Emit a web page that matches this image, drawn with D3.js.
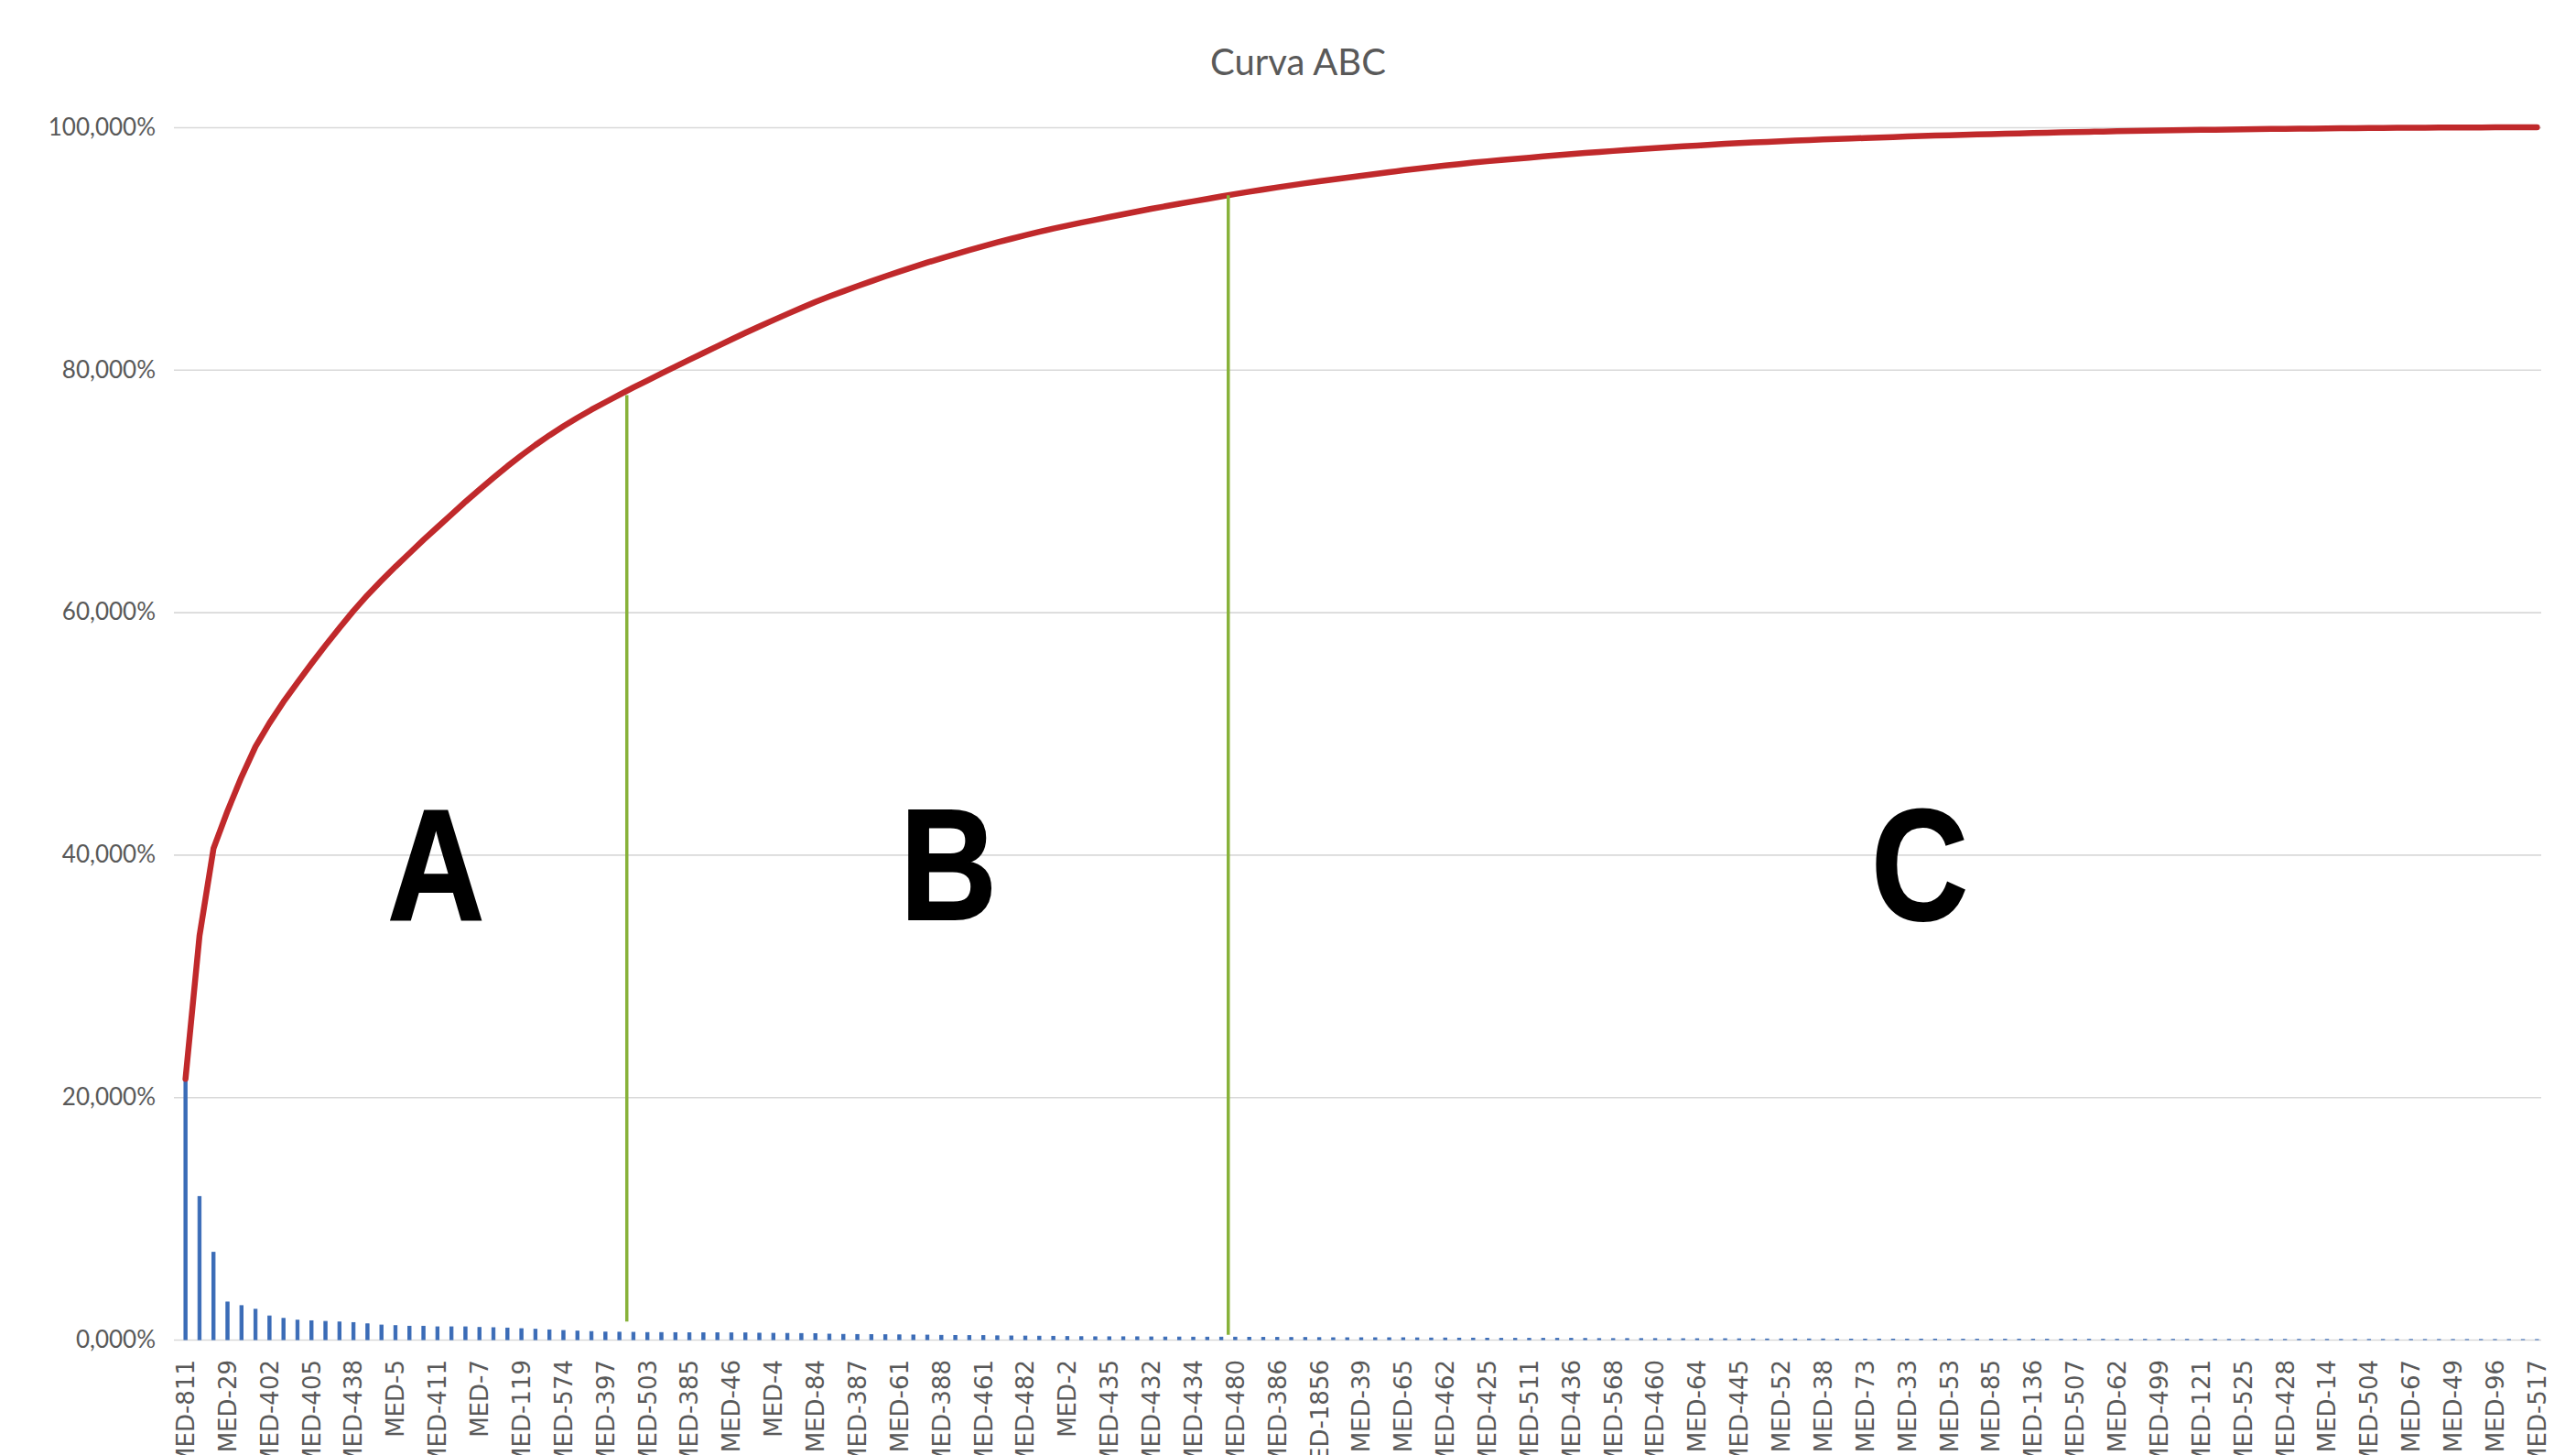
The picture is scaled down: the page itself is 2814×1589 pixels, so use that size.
<!DOCTYPE html>
<html>
<head>
  <meta charset="UTF-8">
  <title>Curva ABC</title>
  <style>
    body { margin: 0; background: #fff; }
    svg { display: block; }
  </style>
</head>
<body>
<svg></svg>
<script src="https://d3js.org/d3.v7.min.js"></script>
<script>
    let width = 2814, height = 1589;

    // every 3rd item is labelled on the axis
    var labels = ["MED-811","MED-29","MED-402","MED-405","MED-438","MED-5","MED-411","MED-7","MED-119",
        "MED-574","MED-397","MED-503","MED-385","MED-46","MED-4","MED-84","MED-387","MED-61","MED-388",
        "MED-461","MED-482","MED-2","MED-435","MED-432","MED-434","MED-480","MED-386","MED-1856","MED-39",
        "MED-65","MED-462","MED-425","MED-511","MED-436","MED-568","MED-460","MED-64","MED-445","MED-52",
        "MED-38","MED-73","MED-33","MED-53","MED-85","MED-136","MED-507","MED-62","MED-499","MED-121",
        "MED-525","MED-428","MED-14","MED-504","MED-67","MED-49","MED-96","MED-517"];

    // share of each item (%), sorted high to low
    var share = [
        21.5, 11.8, 7.2,
        3.1, 2.8, 2.5,
        1.95, 1.75, 1.6,
        1.55, 1.5, 1.45, 1.4,
        1.3, 1.2, 1.15,
        1.1, 1.1, 1.05,
        1.05, 1.05, 1.0,
        0.98, 0.95, 0.9,
        0.85, 0.8, 0.75,
        0.7, 0.66, 0.62,
        0.61, 0.6, 0.58,
        0.58, 0.57, 0.56,
        0.56, 0.56, 0.55,
        0.55, 0.53, 0.52,
        0.51, 0.5, 0.49,
        0.45, 0.43, 0.42,
        0.41, 0.4, 0.39,
        0.38, 0.37, 0.35,
        0.34, 0.33, 0.33,
        0.31, 0.3, 0.29,
        0.28, 0.27, 0.25,
        0.24, 0.23, 0.23,
        0.23, 0.23, 0.22,
        0.21, 0.21, 0.2,
        0.2, 0.2, 0.2,
        0.19, 0.18, 0.18,
        0.17, 0.17, 0.16,
        0.15, 0.15, 0.15,
        0.15, 0.15, 0.15,
        0.14, 0.13, 0.13,
        0.12, 0.12, 0.11,
        0.1, 0.1, 0.1,
        0.1, 0.1, 0.1,
        0.09, 0.08, 0.08,
        0.08, 0.08, 0.08,
        0.07, 0.07, 0.07,
        0.07, 0.07, 0.06,
        0.05, 0.05, 0.05,
        0.05, 0.05, 0.05,
        0.04, 0.04, 0.04,
        0.04, 0.04, 0.04,
        0.04, 0.04, 0.03,
        0.03, 0.03, 0.03,
        0.03, 0.03, 0.03,
        0.027, 0.025, 0.025,
        0.024, 0.023, 0.022,
        0.02, 0.02, 0.02,
        0.017, 0.017, 0.017,
        0.017, 0.016, 0.016,
        0.014, 0.013, 0.013,
        0.012, 0.012, 0.012,
        0.01, 0.01, 0.01,
        0.009, 0.008, 0.008,
        0.006, 0.006, 0.006,
        0.004, 0.004, 0.004,
        0.003, 0.002, 0.002
    ];

    var yTicks = [0, 20, 40, 60, 80, 100];

    // hand drawn class limits: item position, top and bottom value (%)
    var cutoffs = [
        {at: 31.53, top: 77.9, bottom: 1.5},
        {at: 74.5, top: 94.4, bottom: 0.4}
    ];
    var zones = [
        {text: "A", at: 17.9, value: 34.7},
        {text: "B", at: 54.5, value: 34.7},
        {text: "C", at: 123.9, value: 34.7}
    ];

    let svg = d3.select("svg")
        .attr("width", width)
        .attr("height", height)
        .attr("viewBox", "0 0 " + width + " " + height);

    var total = d3.sum(share);
    var cum = Array.from(d3.cumsum(share), v => v / total * 100);
    var idx = d3.range(share.length);

    var left = 195, right = 2779;
    var x = d3.scaleBand()
        .domain(idx)
        .range([left, right])
        .paddingInner(0.78)
        .paddingOuter(0.39);
    var step = x.step();
    // continuous position for things drawn between items
    var xpos = d3.scaleLinear()
        .domain([0, share.length - 1])
        .range([left + step / 2, right - step / 2]);
    var y = d3.scaleLinear()
        .domain([0, 100])
        .range([1463, 139]);

    var fmt = d => d3.format(".3f")(d).replace(".", ",") + "%";

    // title
    svg.append("text")
        .attr("x", 1418)
        .attr("y", 68)
        .attr("dy", "0.35em")
        .attr("text-anchor", "middle")
        .style("font-family", "Lato, 'Open Sans', sans-serif")
        .style("font-size", "40px")
        .style("fill", "#595959")
        .text("Curva ABC");

    // gridlines + y labels
    var yAxis = svg.append("g")
        .attr("transform", "translate(" + (left - 5) + ",0)")
        .call(d3.axisLeft(y).tickValues(yTicks).tickFormat(fmt)
            .tickSize(-(right - left + 2)).tickPadding(20));
    yAxis.select(".domain").remove();
    yAxis.selectAll(".tick line")
        .attr("stroke", "#d9d9d9")
        .attr("stroke-width", 1.6);
    yAxis.selectAll(".tick text")
        .style("font-family", "Lato, 'Open Sans', sans-serif")
        .style("font-size", "26px")
        .style("fill", "#595959");

    // x labels
    var xAxis = svg.append("g")
        .attr("transform", "translate(0," + y(0) + ")")
        .call(d3.axisBottom(x)
            .tickValues(idx.filter(i => i % 3 === 0))
            .tickFormat(i => labels[i / 3])
            .tickSize(0));
    xAxis.select(".domain").remove();
    xAxis.selectAll(".tick text")
        .attr("transform", "translate(0,22) rotate(-90)")
        .attr("x", 0)
        .attr("y", 0)
        .attr("dy", "0.36em")
        .attr("text-anchor", "end")
        .style("font-family", "'DejaVu Sans', 'Open Sans', sans-serif")
        .style("font-size", "26px")
        .style("fill", "#595959");

    // bars
    svg.append("g")
        .selectAll("rect")
        .data(share)
        .enter()
        .append("rect")
        .attr("x", (d, i) => x(i))
        .attr("y", d => y(d))
        .attr("width", x.bandwidth())
        .attr("height", d => y(0) - y(d))
        .attr("fill", "#3b6cb7")
        .attr("stroke", "#3b6cb7")
        .attr("stroke-width", 1);

    // cumulative line
    var line = d3.line()
        .x((d, i) => x(i) + x.bandwidth() / 2)
        .y(d => y(d));
    svg.append("path")
        .datum(cum)
        .attr("d", line)
        .attr("fill", "none")
        .attr("stroke", "#c0292b")
        .attr("stroke-width", 6.5)
        .attr("stroke-linejoin", "round")
        .attr("stroke-linecap", "round");

    // class limits
    svg.append("g")
        .selectAll("line")
        .data(cutoffs)
        .enter()
        .append("line")
        .attr("x1", d => xpos(d.at))
        .attr("x2", d => xpos(d.at))
        .attr("y1", d => y(d.top))
        .attr("y2", d => y(d.bottom))
        .attr("stroke", "#88b23a")
        .attr("stroke-width", 3.5);

    // class letters
    svg.append("g")
        .selectAll("text")
        .data(zones)
        .enter()
        .append("text")
        .attr("transform", d => "translate(" + xpos(d.at) + "," + y(d.value) + ") scale(0.85,1)")
        .attr("text-anchor", "middle")
        .style("font-family", "'Liberation Sans', Arial, sans-serif")
        .style("font-weight", "bold")
        .style("font-size", "172px")
        .style("fill", "#000")
        .style("stroke", "#000")
        .style("stroke-width", 2)
        .text(d => d.text);
</script>
</body>
</html>
